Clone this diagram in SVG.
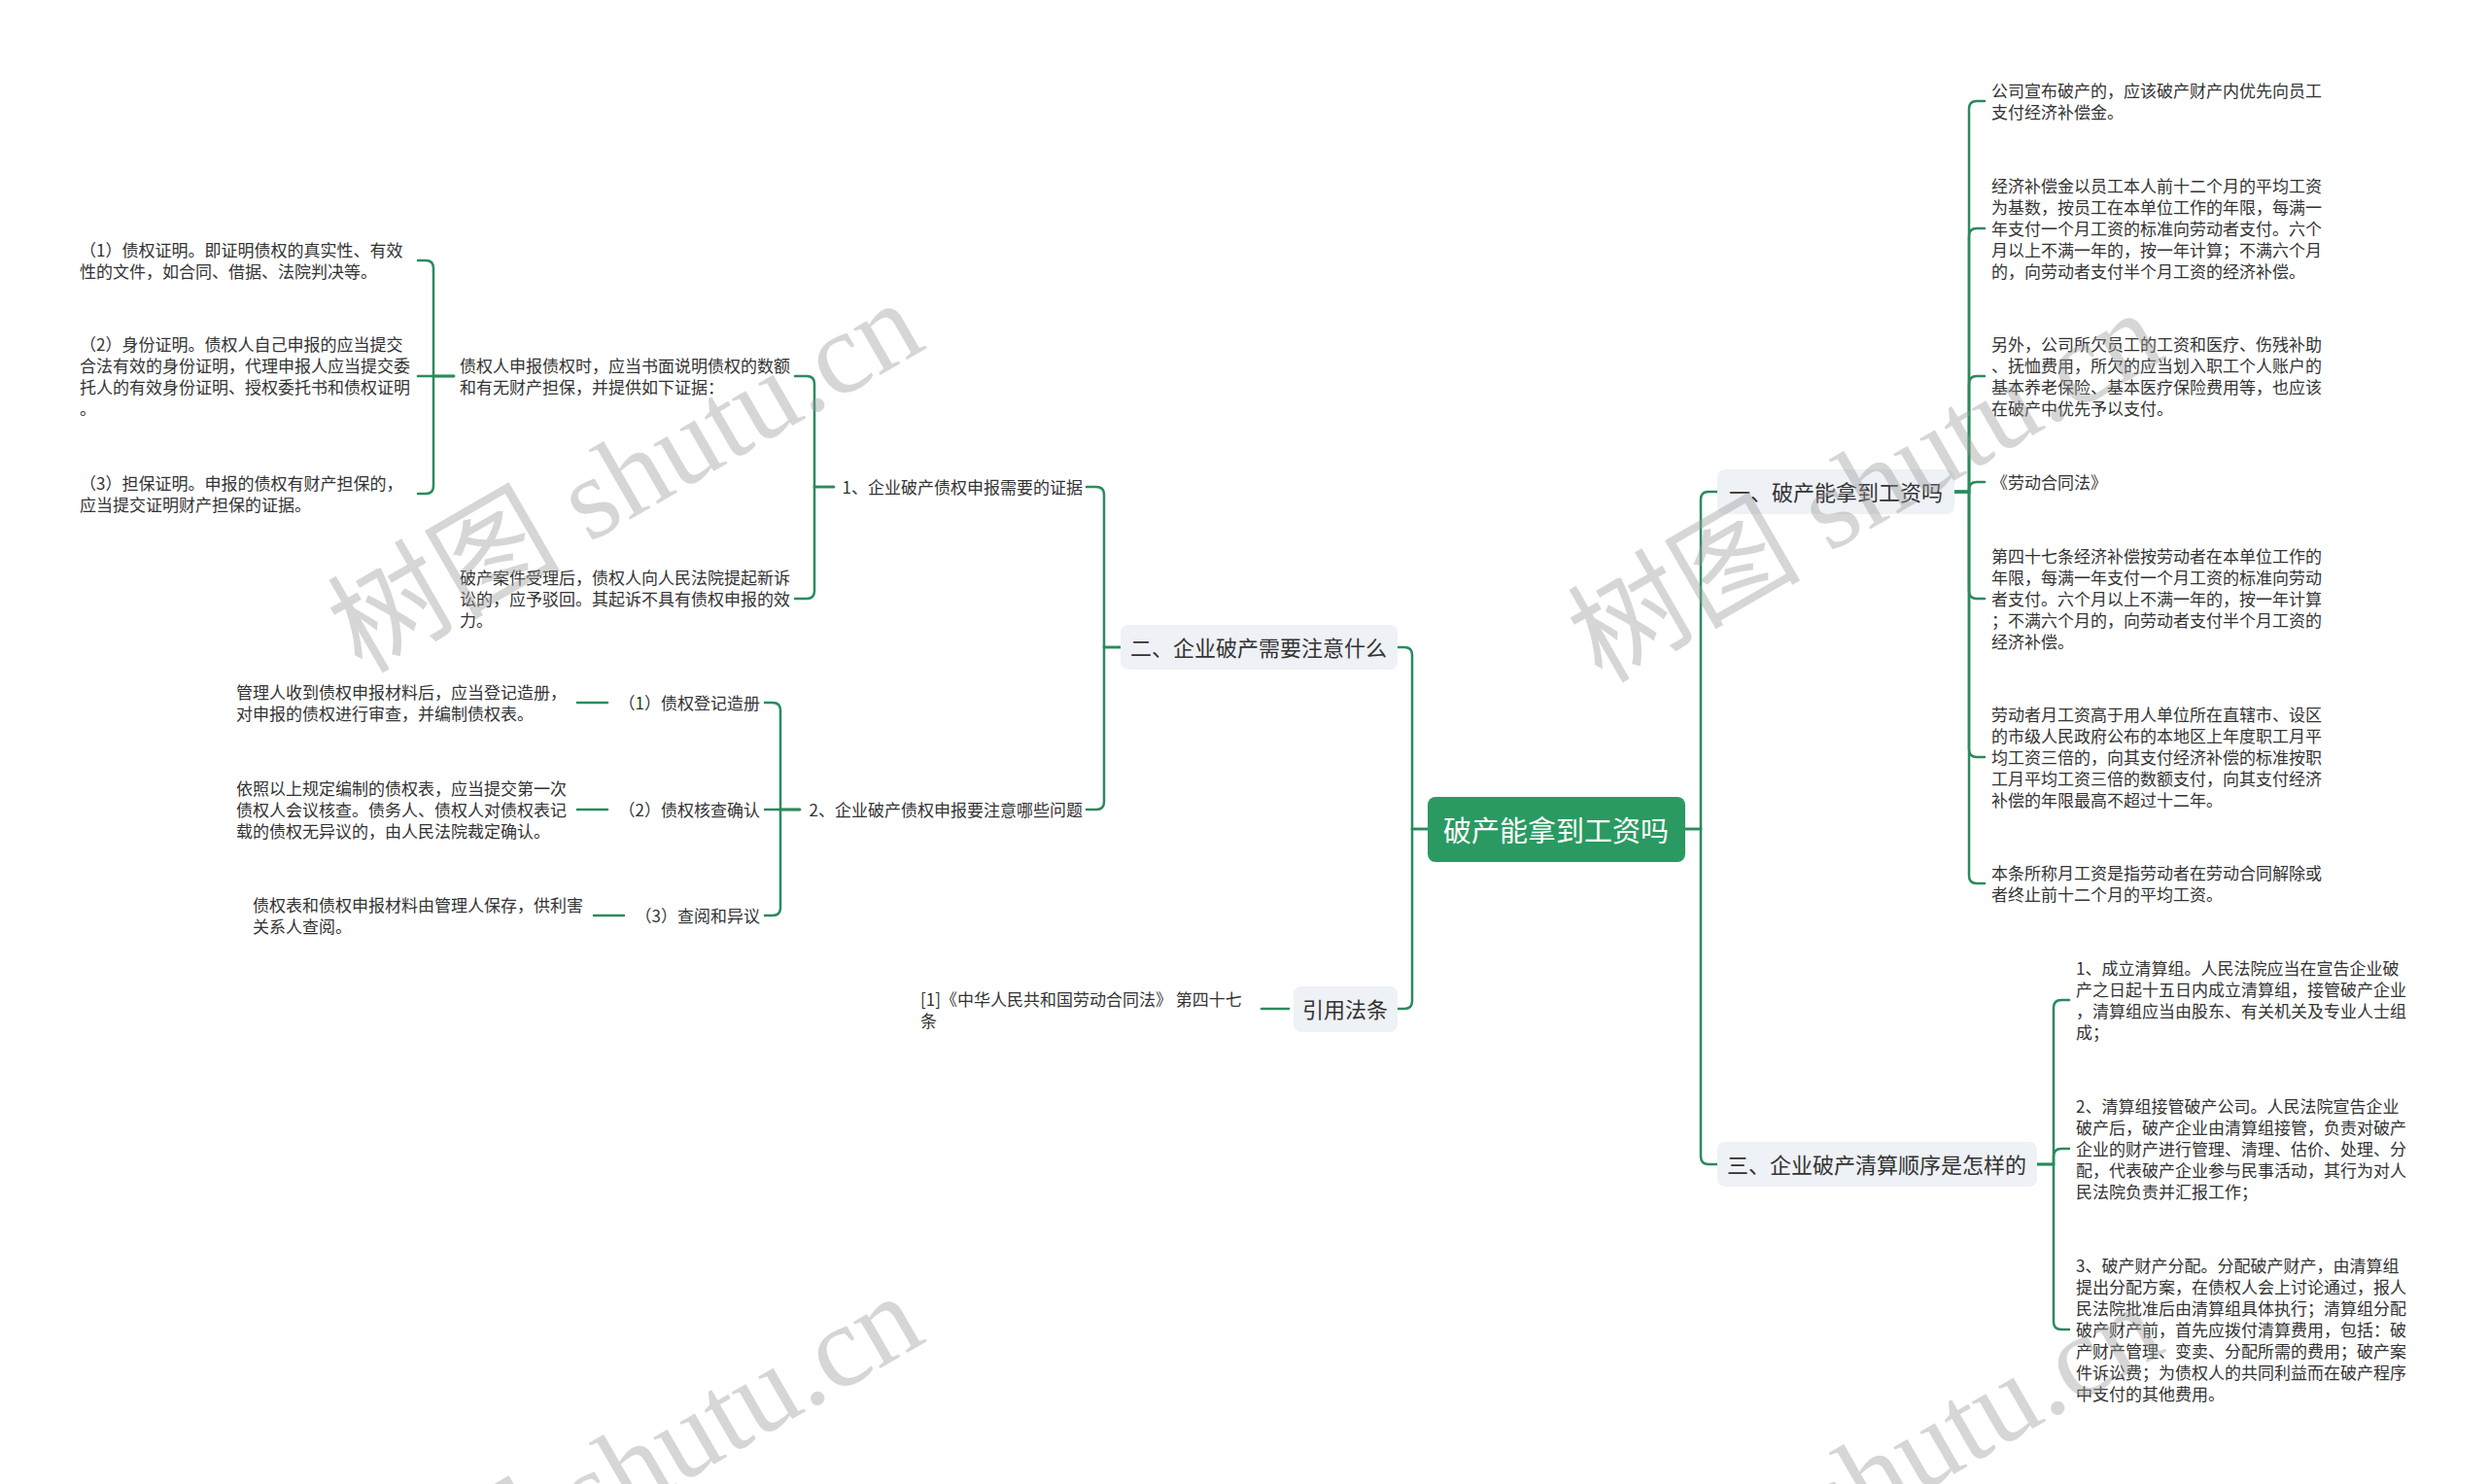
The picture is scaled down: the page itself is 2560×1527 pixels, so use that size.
<svg xmlns="http://www.w3.org/2000/svg" width="2560" height="1527" viewBox="0 0 2560 1527">
<style>
.t{font-family:"Noto Sans CJK SC","Noto Sans",sans-serif;font-size:17px;fill:#333;dominant-baseline:central}
.n{font-size:22px;text-anchor:middle}
.r{font-size:29px;fill:#fff;text-anchor:middle}
.e{text-anchor:end}
.box{fill:#eef1f5}
.c{fill:none;stroke:#2b8a5d;stroke-width:2.5;stroke-linecap:round}
.wm{font-family:"Liberation Serif","Noto Sans CJK SC",serif;font-size:120px;fill:#9a9a9a;opacity:0.4}
</style>
<rect width="2560" height="1527" fill="#fff"/>
<g id="connectors">
<path class="c" d="M1734 853 H1750 V514 Q1750 506 1758 506 H1767"/>
<path class="c" d="M1734 853 H1750 V1190 Q1750 1198 1758 1198 H1767"/>
<path class="c" d="M1469 853 H1453 V674 Q1453 666 1445 666 H1438"/>
<path class="c" d="M1469 853 H1453 V1030 Q1453 1038 1445 1038 H1438"/>
<path class="c" d="M2011 506 H2026 V112 Q2026 104 2034 104 H2042"/>
<path class="c" d="M2011 506 H2026 V243 Q2026 235 2034 235 H2042"/>
<path class="c" d="M2011 506 H2026 V395 Q2026 387 2034 387 H2042"/>
<path class="c" d="M2011 506 H2026 V504 Q2026 496 2034 496 H2042"/>
<path class="c" d="M2011 506 H2026 V608 Q2026 616 2034 616 H2042"/>
<path class="c" d="M2011 506 H2026 V771 Q2026 779 2034 779 H2042"/>
<path class="c" d="M2011 506 H2026 V901 Q2026 909 2034 909 H2042"/>
<path class="c" d="M2096 1198 H2113 V1037 Q2113 1029 2121 1029 H2129"/>
<path class="c" d="M2096 1198 H2113 V1190 Q2113 1182 2121 1182 H2129"/>
<path class="c" d="M2096 1198 H2113 V1360 Q2113 1368 2121 1368 H2129"/>
<path class="c" d="M1153 666 H1136 V509 Q1136 501 1128 501 H1118"/>
<path class="c" d="M1153 666 H1136 V825 Q1136 833 1128 833 H1118"/>
<path class="c" d="M858 501 H838 V395 Q838 387 830 387 H818"/>
<path class="c" d="M858 501 H838 V608 Q838 616 830 616 H818"/>
<path class="c" d="M467 387 H446 V276 Q446 268 438 268 H430"/>
<path class="c" d="M467 387 H430"/>
<path class="c" d="M467 387 H446 V500 Q446 508 438 508 H430"/>
<path class="c" d="M823 833 H803 V731 Q803 723 795 723 H787"/>
<path class="c" d="M823 833 H787"/>
<path class="c" d="M823 833 H803 V934 Q803 942 795 942 H787"/>
<path class="c" d="M594 723 H625"/>
<path class="c" d="M594 833 H625"/>
<path class="c" d="M611 942 H642"/>
<path class="c" d="M1298 1038 H1326"/>
</g>
<g id="root">
<rect x="1469" y="820" width="265" height="67" rx="8" fill="#2a9a62"/>
<text class="t r" x="1601" y="853">破产能拿到工资吗</text>
</g>
<g id="n1">
<rect class="box" x="1767" y="483" width="244" height="46" rx="8"/>
<text class="t n" x="1889" y="505">一、破产能拿到工资吗</text>
</g>
<g id="n1c1"><text class="t"><tspan x="2049" y="92">公司宣布破产的，应该破产财产内优先向员工</tspan><tspan x="2049" y="114">支付经济补偿金。</tspan></text></g>
<g id="n1c2"><text class="t"><tspan x="2049" y="190">经济补偿金以员工本人前十二个月的平均工资</tspan><tspan x="2049" y="212">为基数，按员工在本单位工作的年限，每满一</tspan><tspan x="2049" y="234">年支付一个月工资的标准向劳动者支付。六个</tspan><tspan x="2049" y="256">月以上不满一年的，按一年计算；不满六个月</tspan><tspan x="2049" y="278">的，向劳动者支付半个月工资的经济补偿。</tspan></text></g>
<g id="n1c3"><text class="t"><tspan x="2049" y="353">另外，公司所欠员工的工资和医疗、伤残补助</tspan><tspan x="2049" y="375">、抚恤费用，所欠的应当划入职工个人账户的</tspan><tspan x="2049" y="397">基本养老保险、基本医疗保险费用等，也应该</tspan><tspan x="2049" y="419">在破产中优先予以支付。</tspan></text></g>
<g id="n1c4"><text class="t" x="2049" y="495">《劳动合同法》</text></g>
<g id="n1c5"><text class="t"><tspan x="2049" y="571">第四十七条经济补偿按劳动者在本单位工作的</tspan><tspan x="2049" y="593">年限，每满一年支付一个月工资的标准向劳动</tspan><tspan x="2049" y="615">者支付。六个月以上不满一年的，按一年计算</tspan><tspan x="2049" y="637">；不满六个月的，向劳动者支付半个月工资的</tspan><tspan x="2049" y="659">经济补偿。</tspan></text></g>
<g id="n1c6"><text class="t"><tspan x="2049" y="734">劳动者月工资高于用人单位所在直辖市、设区</tspan><tspan x="2049" y="756">的市级人民政府公布的本地区上年度职工月平</tspan><tspan x="2049" y="778">均工资三倍的，向其支付经济补偿的标准按职</tspan><tspan x="2049" y="800">工月平均工资三倍的数额支付，向其支付经济</tspan><tspan x="2049" y="822">补偿的年限最高不超过十二年。</tspan></text></g>
<g id="n1c7"><text class="t"><tspan x="2049" y="897">本条所称月工资是指劳动者在劳动合同解除或</tspan><tspan x="2049" y="919">者终止前十二个月的平均工资。</tspan></text></g>
<g id="n3">
<rect class="box" x="1767" y="1175" width="329" height="46" rx="8"/>
<text class="t n" x="1931" y="1197">三、企业破产清算顺序是怎样的</text>
</g>
<g id="n3c1"><text class="t"><tspan x="2136" y="995">1、成立清算组。人民法院应当在宣告企业破</tspan><tspan x="2136" y="1017">产之日起十五日内成立清算组，接管破产企业</tspan><tspan x="2136" y="1039">，清算组应当由股东、有关机关及专业人士组</tspan><tspan x="2136" y="1061">成；</tspan></text></g>
<g id="n3c2"><text class="t"><tspan x="2136" y="1137">2、清算组接管破产公司。人民法院宣告企业</tspan><tspan x="2136" y="1159">破产后，破产企业由清算组接管，负责对破产</tspan><tspan x="2136" y="1181">企业的财产进行管理、清理、估价、处理、分</tspan><tspan x="2136" y="1203">配，代表破产企业参与民事活动，其行为对人</tspan><tspan x="2136" y="1225">民法院负责并汇报工作；</tspan></text></g>
<g id="n3c3"><text class="t"><tspan x="2136" y="1301">3、破产财产分配。分配破产财产，由清算组</tspan><tspan x="2136" y="1323">提出分配方案，在债权人会上讨论通过，报人</tspan><tspan x="2136" y="1345">民法院批准后由清算组具体执行；清算组分配</tspan><tspan x="2136" y="1367">破产财产前，首先应拨付清算费用，包括：破</tspan><tspan x="2136" y="1389">产财产管理、变卖、分配所需的费用；破产案</tspan><tspan x="2136" y="1411">件诉讼费；为债权人的共同利益而在破产程序</tspan><tspan x="2136" y="1433">中支付的其他费用。</tspan></text></g>
<g id="n2">
<rect class="box" x="1153" y="643" width="285" height="46" rx="8"/>
<text class="t n" x="1295" y="665">二、企业破产需要注意什么</text>
</g>
<g id="n2a"><text class="t e" x="1114" y="500">1、企业破产债权申报需要的证据</text></g>
<g id="n2a1"><text class="t"><tspan x="473" y="375">债权人申报债权时，应当书面说明债权的数额</tspan><tspan x="473" y="397">和有无财产担保，并提供如下证据：</tspan></text></g>
<g id="n2a1a"><text class="t"><tspan x="82" y="256">（1）债权证明。即证明债权的真实性、有效</tspan><tspan x="82" y="278">性的文件，如合同、借据、法院判决等。</tspan></text></g>
<g id="n2a1b"><text class="t"><tspan x="82" y="353">（2）身份证明。债权人自己申报的应当提交</tspan><tspan x="82" y="375">合法有效的身份证明，代理申报人应当提交委</tspan><tspan x="82" y="397">托人的有效身份证明、授权委托书和债权证明</tspan><tspan x="82" y="419">。</tspan></text></g>
<g id="n2a1c"><text class="t"><tspan x="82" y="496">（3）担保证明。申报的债权有财产担保的，</tspan><tspan x="82" y="518">应当提交证明财产担保的证据。</tspan></text></g>
<g id="n2a2"><text class="t"><tspan x="473" y="593">破产案件受理后，债权人向人民法院提起新诉</tspan><tspan x="473" y="615">讼的，应予驳回。其起诉不具有债权申报的效</tspan><tspan x="473" y="637">力。</tspan></text></g>
<g id="n2b"><text class="t e" x="1114" y="832">2、企业破产债权申报要注意哪些问题</text></g>
<g id="n2b1"><text class="t e" x="782" y="722">（1）债权登记造册</text></g>
<g id="n2b1a"><text class="t"><tspan x="243" y="711">管理人收到债权申报材料后，应当登记造册，</tspan><tspan x="243" y="733">对申报的债权进行审查，并编制债权表。</tspan></text></g>
<g id="n2b2"><text class="t e" x="782" y="832">（2）债权核查确认</text></g>
<g id="n2b2a"><text class="t"><tspan x="243" y="810">依照以上规定编制的债权表，应当提交第一次</tspan><tspan x="243" y="832">债权人会议核查。债务人、债权人对债权表记</tspan><tspan x="243" y="854">载的债权无异议的，由人民法院裁定确认。</tspan></text></g>
<g id="n2b3"><text class="t e" x="782" y="941">（3）查阅和异议</text></g>
<g id="n2b3a"><text class="t"><tspan x="260" y="930">债权表和债权申报材料由管理人保存，供利害</tspan><tspan x="260" y="952">关系人查阅。</tspan></text></g>
<g id="n4">
<rect class="box" x="1331" y="1015" width="107" height="47" rx="8"/>
<text class="t n" x="1384" y="1037">引用法条</text>
</g>
<g id="n4a"><text class="t"><tspan x="947" y="1027">[1]《中华人民共和国劳动合同法》 第四十七</tspan><tspan x="947" y="1049">条</tspan></text></g>
<g id="watermarks">
<text class="wm" transform="translate(372 694) rotate(-30)">树图 shutu.cn</text>
<text class="wm" transform="translate(1648 704) rotate(-30)">树图 shutu.cn</text>
<text class="wm" transform="translate(372 1716) rotate(-30)">树图 shutu.cn</text>
<text class="wm" transform="translate(1648 1726) rotate(-30)">树图 shutu.cn</text>
</g>
</svg>
